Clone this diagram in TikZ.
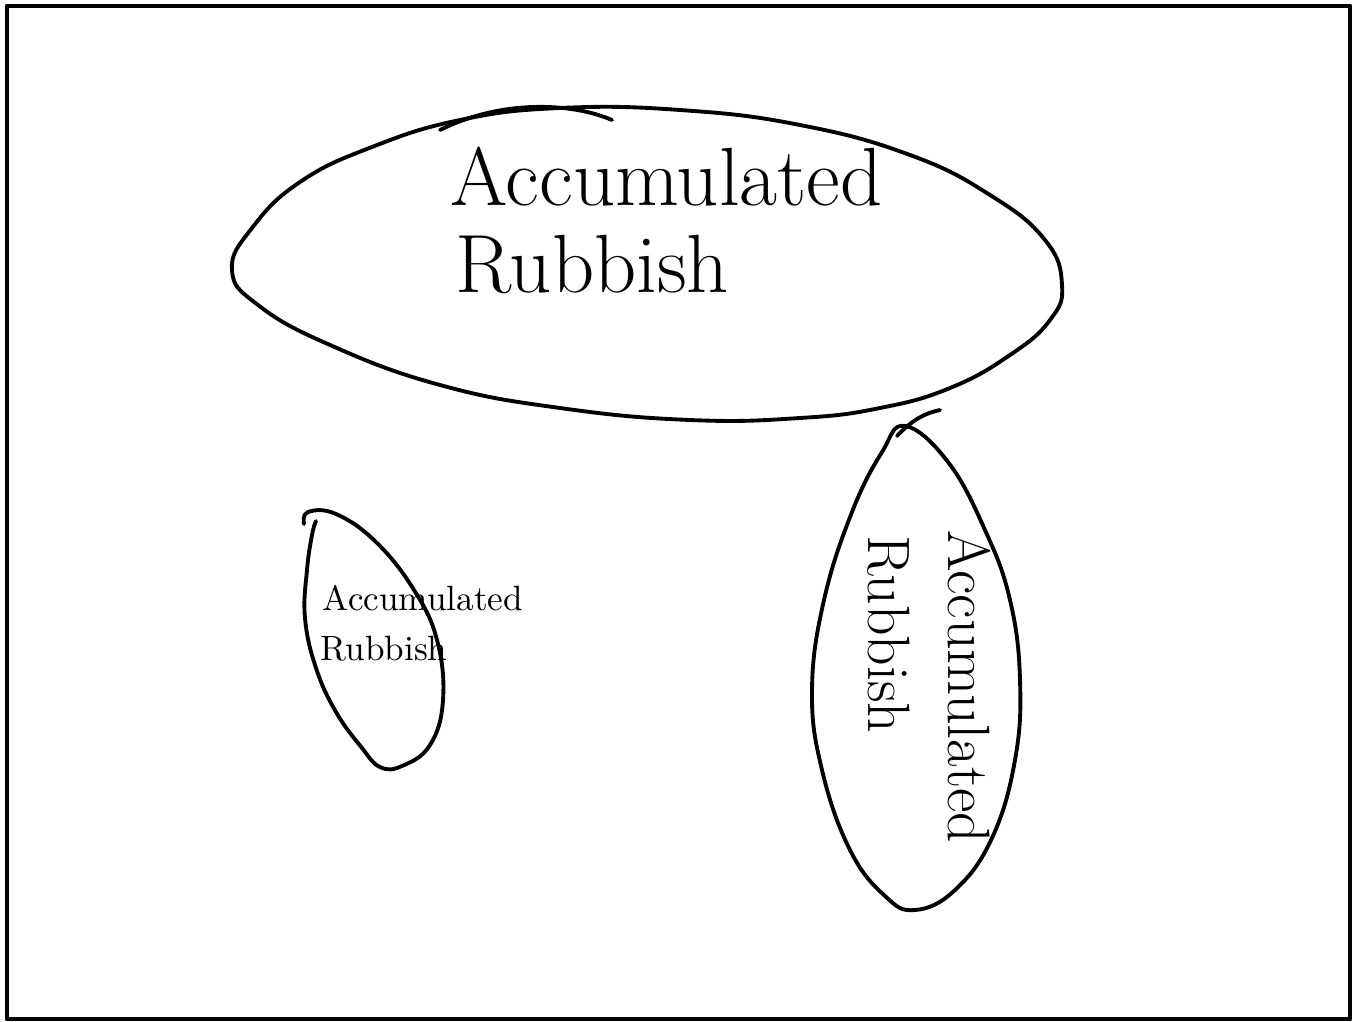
\documentclass[tikz,border=0pt]{standalone}
\tikzset{
    sketch/.style={line width=1.1pt, line cap=round, line join=round},
    handtext/.style={anchor=base west, inner sep=0pt}
}
\begin{document}
\begin{tikzpicture}[x=0.01cm,y=-0.01cm]
    \useasboundingbox (0,0) rectangle (1355,1021);
    \def\bigblob{plot[smooth cycle, tension=0.75] coordinates {(232,270) (252,228) (300,182) (372,147) (460,120) (560,108) (680,110) (800,125) (910,155) (990,195) (1045,240) (1062,285) (1050,320) (1010,355) (950,388) (880,408) (800,418) (690,420) (560,408) (440,385) (330,345) (258,305)}}
    \def\leftblob{plot[smooth, tension=0.7] coordinates {(304,524) (308,512) (336,514) (376,542) (414,590) (437,640) (443,700) (430,745) (402,766) (380,767) (362,748) (336,712) (316,668) (305,618) (307,570) (312,535) (316,521)}}
    \def\rightblob{plot[smooth cycle, tension=0.7] coordinates {(905,426) (948,462) (985,530) (1010,600) (1020,680) (1015,760) (992,838) (955,890) (915,910) (885,896) (850,850) (822,770) (812,690) (824,600) (852,512) (882,452)}}

    \draw[sketch, line width=1.4pt] (7,6) rectangle (1350,1019);

    \draw[sketch] \bigblob;
    \draw[sketch] (440,130) .. controls (500,100) and (570,102) .. (612,120);
    \draw[sketch] \leftblob;
    \draw[sketch] \rightblob;
    \draw[sketch] (897,436) .. controls (912,420) and (925,413) .. (940,410);

    \node[handtext, font=\fontsize{23.5}{28}\selectfont] (bigtop) at (450,205) {Accumulated};
    \node[handtext, font=\fontsize{23.5}{28}\selectfont] (bigbot) at (455,292) {Rubbish};

    \node[handtext, font=\fontsize{10}{12}\selectfont] (lefttop) at (322,610) {Accumulated};
    \node[handtext, font=\fontsize{10}{12}\selectfont] (leftbot) at (320,660) {Rubbish};

    \node[handtext, rotate=-90, font=\fontsize{17}{20}\selectfont] (righttop) at (948,530) {Accumulated};
    \node[handtext, rotate=-90, font=\fontsize{17}{20}\selectfont] (rightbot) at (868,535) {Rubbish};
\end{tikzpicture}
\end{document}
